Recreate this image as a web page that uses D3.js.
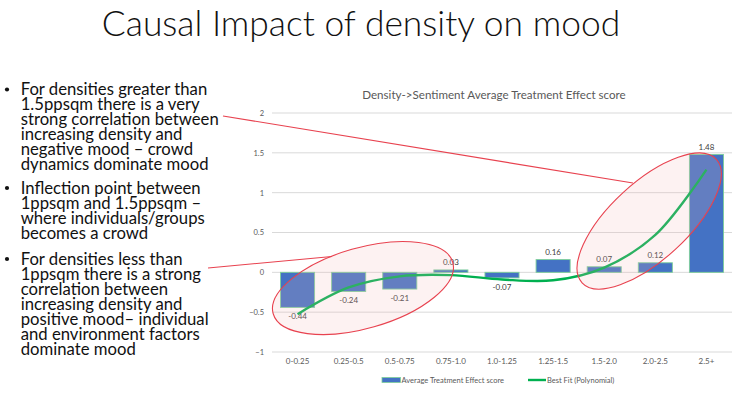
<!DOCTYPE html>
<html>
<head>
<meta charset="utf-8">
<script src="https://cdn.jsdelivr.net/npm/d3@7/dist/d3.min.js"></script>
<style>
  html, body { margin: 0; padding: 0; background: #fff; }
  svg { display: block; }
</style>
</head>
<body>
<svg id="chart" width="745" height="399"></svg>
<script>
// ---- data ----
const slideTitle = "Causal Impact of density on mood";
const chartTitle = "Density->Sentiment Average Treatment Effect score";
const categories = ["0-0.25", "0.25-0.5", "0.5-0.75", "0.75-1.0", "1.0-1.25", "1.25-1.5", "1.5-2.0", "2.0-2.5", "2.5+"];
const ateScores = [-0.44, -0.24, -0.21, 0.03, -0.07, 0.16, 0.07, 0.12, 1.48];
const bestFit = [-0.525, -0.19, -0.05, -0.035, -0.09, -0.10, 0.06, 0.47, 1.29];
const yTicks = [-1, -0.5, 0, 0.5, 1, 1.5, 2];
const seriesNames = ["Average Treatment Effect score", "Best Fit (Polynomial)"];
const bullets = [
  ["For densities greater than", "1.5ppsqm there is a very", "strong correlation between", "increasing density and", "negative mood \u2013 crowd", "dynamics dominate mood"],
  ["Inflection point between", "1ppsqm and 1.5ppsqm \u2013", "where individuals/groups", "becomes a crowd"],
  ["For densities less than", "1ppsqm there is a strong", "correlation between", "increasing density and", "positive mood\u2013 individual", "and environment factors", "dominate mood"]
];

// ---- drawing ----
const svg = d3.select("#chart");
const W = 745, H = 399;
svg.append("rect").attr("width", W).attr("height", H).attr("fill", "#fff");

const FONT = "Lato, 'Open Sans', 'Liberation Sans', sans-serif";

// Slide title
svg.append("text")
  .attr("x", 361).attr("y", 36)
  .attr("text-anchor", "middle")
  .attr("font-family", FONT).attr("font-weight", 300)
  .attr("font-size", 35.4).attr("fill", "#111")
  .text(slideTitle);

// Bullet text: one text block per bullet, lines as tspans
const bulletTop = [95, 193.5, 264.5];
const lineH = 15;
const bg = svg.append("g").attr("font-family", FONT).attr("font-size", 16.7).attr("fill", "#111");
bullets.forEach((lines, i) => {
  bg.append("circle").attr("cx", 7).attr("cy", bulletTop[i] - 5.5).attr("r", 2.1).attr("fill", "#111");
  const t = bg.append("text").attr("x", 20.7).attr("y", bulletTop[i]);
  lines.forEach((ln, j) => {
    t.append("tspan").attr("x", 20.7).attr("y", bulletTop[i] + j * lineH).text(ln);
  });
});

// Chart
const x = d3.scaleBand().domain(categories).range([272, 732]).paddingInner(1/3).paddingOuter(1/6);
const y = d3.scaleLinear().domain([-1, 2]).range([352, 113]);
const cx = c => x(c) + x.bandwidth() / 2;
const idxX = i => 272 + x.step() * (i + 0.5);

svg.append("text")
  .attr("x", 494).attr("y", 99).attr("text-anchor", "middle")
  .attr("font-family", FONT).attr("font-size", 11.6).attr("fill", "#595959")
  .text(chartTitle);

// gridlines
svg.append("g").selectAll("line").data(yTicks).join("line")
  .attr("x1", 272).attr("x2", 732)
  .attr("y1", d => y(d)).attr("y2", d => y(d))
  .attr("stroke", "#d9d9d9").attr("stroke-width", 1);

// y axis labels
const yAxis = d3.axisLeft(y).tickValues(yTicks).tickSize(0).tickPadding(0).tickFormat(d3.format("~g"));
const ya = svg.append("g").attr("transform", "translate(264,0)").call(yAxis);
ya.select(".domain").remove();
ya.selectAll("text").attr("font-family", FONT).attr("font-size", 7.5).attr("fill", "#595959");

// x axis labels
const xAxis = d3.axisBottom(x).tickSize(0).tickPadding(0);
const xa = svg.append("g").attr("transform", "translate(0,358)").call(xAxis);
xa.select(".domain").remove();
xa.selectAll("text").attr("font-family", FONT).attr("font-size", 8).attr("fill", "#595959");

// bars
svg.append("g").selectAll("rect").data(ateScores).join("rect")
  .attr("x", (d, i) => x(categories[i]))
  .attr("width", x.bandwidth())
  .attr("y", d => y(Math.max(0, d)))
  .attr("height", d => Math.abs(y(d) - y(0)))
  .attr("fill", "#4472C4")
  .attr("stroke", "#7dcf9a").attr("stroke-width", 0.9);

// data labels
svg.append("g").selectAll("text").data(ateScores).join("text")
  .attr("x", (d, i) => cx(categories[i]))
  .attr("y", d => d >= 0 ? y(d) - 4.5 : y(d) + 12)
  .attr("text-anchor", "middle")
  .attr("font-family", FONT).attr("font-size", 8).attr("fill", "#404040")
  .text(d => d.toFixed(2));

// best fit curve
const line = d3.line()
  .x((d, i) => cx(categories[i]))
  .y(d => y(d))
  .curve(d3.curveCatmullRom.alpha(0.5));
svg.append("path").datum(bestFit)
  .attr("d", line)
  .attr("fill", "none").attr("stroke", "#00b050").attr("stroke-width", 2.4);

// annotation ellipses
const ellipses = [
  { i: 1.28, v: -0.197, rx: 93.4, ry: 40.3, rot: -16 },
  { i: 6.88, v: 0.644, rx: 91.2, ry: 38.6, rot: -42.6 }
];
svg.append("g").selectAll("ellipse").data(ellipses).join("ellipse")
  .attr("transform", d => `translate(${idxX(d.i)},${y(d.v)}) rotate(${d.rot})`)
  .attr("rx", d => d.rx).attr("ry", d => d.ry)
  .attr("fill", "#f4b6b6").attr("fill-opacity", 0.18)
  .attr("stroke", "#e8424f").attr("stroke-width", 1.1);

// connector lines
const connectors = [
  { x1: 223, y1: 116, x2: 633, y2: 183 },
  { x1: 208, y1: 268, x2: 332, y2: 256.5 }
];
svg.append("g").selectAll("line").data(connectors).join("line")
  .attr("x1", d => d.x1).attr("y1", d => d.y1)
  .attr("x2", d => d.x2).attr("y2", d => d.y2)
  .attr("stroke", "#e8424f").attr("stroke-width", 1.1);

// legend
const lg = svg.append("g").attr("font-family", FONT).attr("font-size", 7.5).attr("fill", "#595959");
lg.append("rect").attr("x", 382).attr("y", 377.5).attr("width", 18.5).attr("height", 5)
  .attr("fill", "#4472C4").attr("stroke", "#7dcf9a").attr("stroke-width", 0.8);
lg.append("text").attr("x", 401.5).attr("y", 382.7).text(seriesNames[0]);
lg.append("line").attr("x1", 528).attr("x2", 546).attr("y1", 380).attr("y2", 380)
  .attr("stroke", "#00b050").attr("stroke-width", 2.4);
lg.append("text").attr("x", 547).attr("y", 382.7).text(seriesNames[1]);
</script>
</body>
</html>
